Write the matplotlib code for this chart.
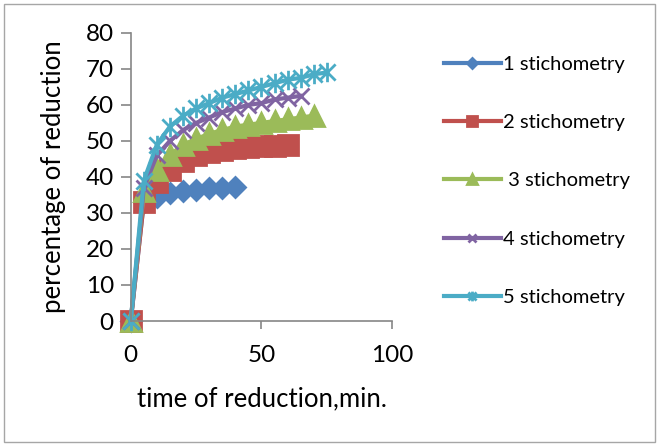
import matplotlib
matplotlib.use("Agg")
from matplotlib import pyplot as plt
from matplotlib.path import Path
from matplotlib.patches import Rectangle

plt.rcParams["font.family"] = ["Lato", "DejaVu Sans"]

# time of reduction, min.
time_1 = [0, 5, 10, 15, 20, 25, 30, 35, 40]
time_2 = [0, 5, 10, 15, 20, 25, 30, 35, 40, 45, 50, 55, 60]
time_3 = [0, 5, 10, 15, 20, 25, 30, 35, 40, 45, 50, 55, 60, 65, 70]
time_4 = [0, 5, 10, 15, 20, 25, 30, 35, 40, 45, 50, 55, 60, 65]
time_5 = [0, 5, 10, 15, 20, 25, 30, 35, 40, 45, 50, 55, 60, 65, 70, 75]

# percentage of reduction
red_1 = [0, 33, 34.5, 35.5, 36, 36.5, 37, 37, 37.3]
red_2 = [0, 33, 38.5, 42, 44.5, 46, 47, 47.5, 48, 48.3, 48.5, 48.7, 48.8]
red_3 = [0, 36, 42, 46, 49, 50.5, 52, 53, 54, 54.5, 55, 55.5, 56, 56.5, 57]
red_4 = [0, 37, 46, 50, 53, 55, 56.5, 58, 59, 60, 60.5, 61.5, 62, 62.5]
red_5 = [0, 39, 49, 54, 57, 59, 60.5, 62, 63, 64, 65, 66, 67, 67.5, 68.5, 69]

labels = ["1 stichometry", "2 stichometry", " 3 stichometry",
          "4 stichometry", "5 stichometry"]
colors = ["#4F81BD", "#C0504D", "#9BBB59", "#8064A2", "#4BACC6"]

# Excel-style star: an x with a vertical bar
star = Path(
    [(-1, -1), (1, 1), (-1, 1), (1, -1), (0, -1.2), (0, 1.2)],
    [Path.MOVETO, Path.LINETO, Path.MOVETO, Path.LINETO, Path.MOVETO, Path.LINETO],
)
markers = ["D", "s", "^", "x", star]
sizes = [10, 14, 14, 12, 14]

fig = plt.figure(figsize=(6.57, 4.44), dpi=100)
ax = fig.add_axes([0.199, 0.277, 0.398, 0.649])

series = [(time_1, red_1), (time_2, red_2), (time_3, red_3), (time_4, red_4), (time_5, red_5)]
for (t, r), lab, c, m, s in zip(series, labels, colors, markers, sizes):
    ax.plot(t, r, color=c, lw=3, marker=m, markersize=s, mew=2, label=lab)

ax.set_xlim(0, 100)
ax.set_ylim(0, 80)
ax.set_xticks([0, 50, 100])
ax.set_yticks(range(0, 81, 10))
for side in ["top", "right"]:
    ax.spines[side].set_visible(False)
for side in ["left", "bottom"]:
    ax.spines[side].set_color("#868686")
    ax.spines[side].set_linewidth(1.2)
ax.tick_params(colors="#868686", labelcolor="black", labelsize=17.5, width=1.2)
ax.tick_params(axis="y", length=7.2, pad=5)
ax.tick_params(axis="x", length=6, pad=11)
ax.set_xlabel("time of reduction,min.", fontsize=18.5, labelpad=15)
ax.set_ylabel("percentage of reduction", fontsize=18.5, labelpad=14)
for sp in ax.spines.values():
    sp.set_clip_on(False)
for ln in ax.lines:
    ln.set_clip_on(False)

leg = ax.legend(loc="upper left", bbox_to_anchor=(1.199, 0.921), frameon=False,
                fontsize=14.5, markerscale=0.5, handlelength=2.8, handletextpad=0.1,
                labelspacing=2.05, borderpad=0, borderaxespad=0)

fig.patches.append(Rectangle((4 / 657, 2 / 444), 651 / 657, 438 / 444,
                             transform=fig.transFigure,
                             fill=False, edgecolor="#A6A6A6", lw=1))

fig.savefig("out.png", dpi=100)
